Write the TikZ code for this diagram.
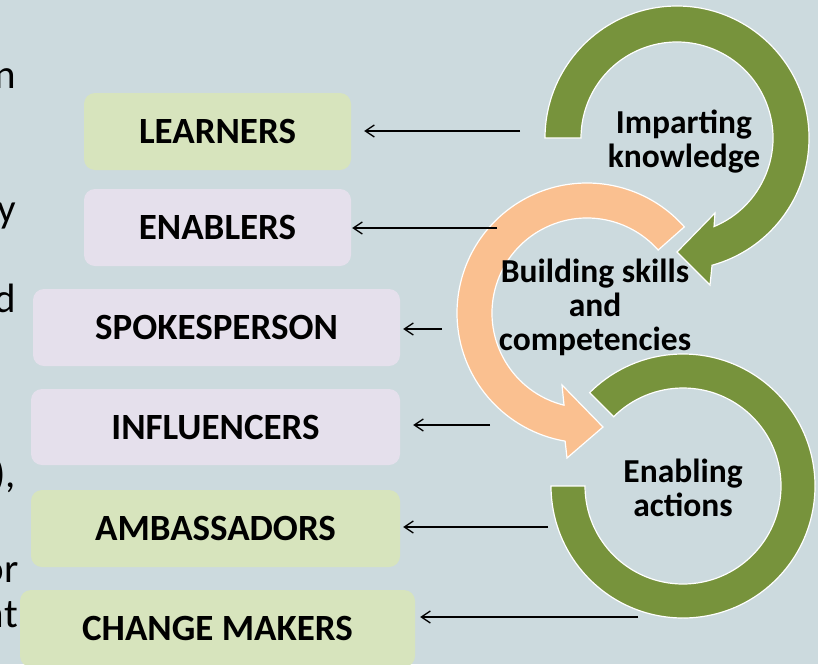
\documentclass[tikz,border=0pt]{standalone}
\usepackage{fontspec}
\setmainfont{Carlito}
\usetikzlibrary{arrows.meta,calc}

\definecolor{bgblue}{HTML}{CCDADE}
\definecolor{boxgreen}{HTML}{D7E4BD}
\definecolor{boxlilac}{HTML}{E5E0EC}
\definecolor{arcgreen}{HTML}{77933C}
\definecolor{arcpeach}{HTML}{FAC090}

\begin{document}
\begin{tikzpicture}[x=1pt,y=-1pt,
    rolebox/.style={rounded corners=11pt,inner sep=0pt,font=\bfseries\fontsize{37}{40}\selectfont},
    greenbox/.style={rolebox,fill=boxgreen},
    lilacbox/.style={rolebox,fill=boxlilac},
    ringarrow/.style={draw=white,line width=1.2pt},
    ringtext/.style={align=center,inner sep=0pt,font=\bfseries\fontsize{33.5}{34}\selectfont},
    fragment/.style={anchor=base east,inner sep=0pt,font=\fontsize{41}{44}\selectfont},
    toward/.style={-{Straight Barb[length=9pt,width=12pt]},line width=1.3pt}]
        \useasboundingbox (0,0) rectangle (818,664);
        \clip (0,0) rectangle (818,664);
        \fill[bgblue] (0,0) rectangle (818,664);

        % cut-off words at the left edge
        \node[fragment] (f1) at (16,88)  {n};
        \node[fragment] (f2) at (16,222) {y};
        \node[fragment] (f3) at (16,312) {d};
        \node[fragment] (f4) at (16,487) {),};
        \node[fragment] (f5) at (19,582) {or};
        \node[fragment] (f6) at (18,627) {nt};

        % roles
        \node[greenbox,minimum width=267pt,minimum height=77pt] (learners)     at (217.5,131.5) {LEARNERS};
        \node[lilacbox,minimum width=267pt,minimum height=77pt] (enablers)     at (217.5,227.5) {ENABLERS};
        \node[lilacbox,minimum width=367pt,minimum height=77pt] (spokesperson) at (216.5,327.5) {SPOKESPERSON};
        \node[lilacbox,minimum width=369pt,minimum height=76pt] (influencers)  at (215.5,427)   {INFLUENCERS};
        \node[greenbox,minimum width=369pt,minimum height=77pt] (ambassadors)  at (215.5,528.5) {AMBASSADORS};
        \node[greenbox,minimum width=395pt,minimum height=77pt] (changemakers) at (217.5,628.5) {CHANGE MAKERS};

        % ring centres
        \coordinate (ikc) at (677,138);
        \coordinate (bsc) at (587,313);
        \coordinate (eac) at (683,486);

        % enabling actions ring
        \path[ringarrow,fill=arcgreen] ($(eac)+(-135:132)$) arc[start angle=-135,end angle=180,radius=132]
            -- ($(eac)+(180:98)$) arc[start angle=180,end angle=-135,radius=98] -- cycle;
        % building skills ring
        \path[ringarrow,fill=arcpeach] ($(bsc)+(-41.5:130)$) arc[start angle=-41.5,end angle=-260.3,radius=130]
            -- (567,458) -- (603,427) -- (562,385)
            -- ($(bsc)+(-256:95)$) arc[start angle=-256,end angle=-41.5,radius=95] -- cycle;
        % imparting knowledge ring
        \path[ringarrow,fill=arcgreen] ($(ikc)+(-180:132)$) arc[start angle=-180,end angle=74.6,radius=132]
            -- (710,285) -- (677,252) -- (715,213)
            -- ($(ikc)+(67.3:96)$) arc[start angle=67.3,end angle=-180,radius=96] -- cycle;

        \node[ringtext] (impart) at (684,142) {Imparting\\knowledge};
        \node[ringtext] (build)  at (595,307) {Building skills\\and\\competencies};
        \node[ringtext] (enable) at (683,488) {Enabling\\actions};

        % arrows to the roles
        \coordinate (s1) at (520,131);
        \coordinate (s2) at (497,228);
        \coordinate (s3) at (442,329);
        \coordinate (s4) at (490,425);
        \coordinate (s5) at (548,527);
        \coordinate (s6) at (638,617);
        \draw[toward,shorten >=13pt] (s1) -- (s1 -| learners.east);
        \draw[toward,shorten >=1pt]  (s2) -- (s2 -| enablers.east);
        \draw[toward,shorten >=3pt]  (s3) -- (s3 -| spokesperson.east);
        \draw[toward,shorten >=13pt] (s4) -- (s4 -| influencers.east);
        \draw[toward,shorten >=3pt]  (s5) -- (s5 -| ambassadors.east);
        \draw[toward,shorten >=5pt]  (s6) -- (s6 -| changemakers.east);
    \end{tikzpicture}
\end{document}
